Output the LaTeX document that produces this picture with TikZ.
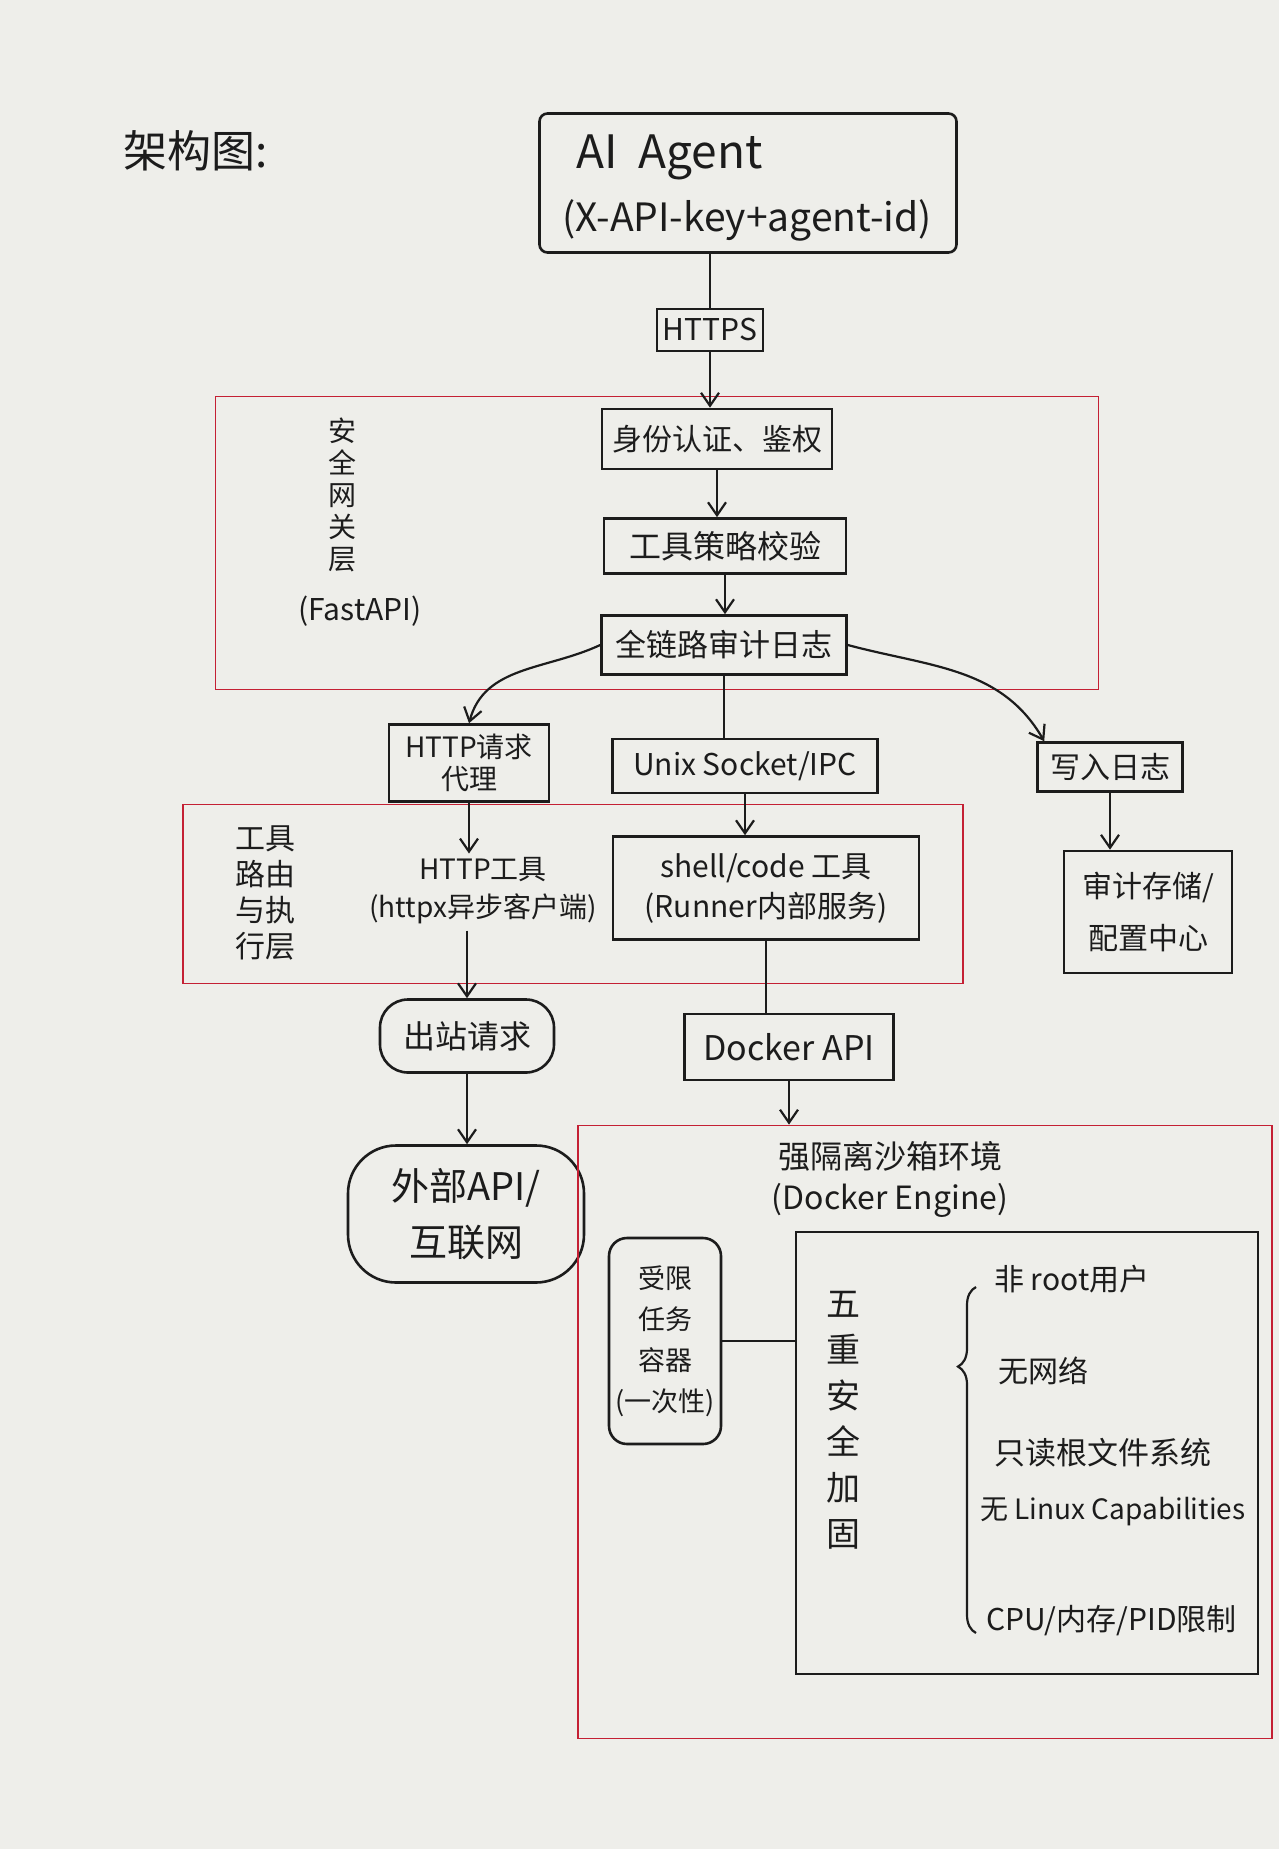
\documentclass[tikz,border=0pt]{standalone}
\usepackage{fontspec}
\setmainfont{Noto Sans CJK SC}
\usepackage{tikz}
\usetikzlibrary{arrows.meta,decorations.pathreplacing}

\definecolor{paper}{RGB}{238,238,234}
\definecolor{ink}{RGB}{28,28,28}
\definecolor{redpen}{RGB}{196,32,52}

\newcommand{\pen}[2]{\fontsize{#1}{#2}\selectfont}

\begin{document}
\begin{tikzpicture}[x=1pt,y=-1pt,
    box/.style={draw=ink, line width=2.6pt, inner sep=0pt, align=center, text=ink},
    layer/.style={draw=redpen, line width=1.8pt, inner sep=0pt},
    txt/.style={text=ink, inner sep=0pt, align=center},
    con/.style={draw=ink, line width=2.2pt},
    arr/.style={con, -{Straight Barb[length=13pt,width=18pt,line width=2.2pt]}}]
		\fill[paper] (0,0) rectangle (1279,1849);
		\useasboundingbox (0,0) rectangle (1279,1849);

		\node[txt, font=\pen{44}{50}] (title) at (196,151) {架构图:};

		% agent and gateway layer
		\node[box, rounded corners=8pt, minimum width=417pt, minimum height=139pt] (agent) at (748,183) {};
		\node[txt, anchor=west, font=\pen{46}{50}] (agentname) at (576,157) {AI\ \ Agent};
		\node[txt, font=\pen{39}{40}] (agentkey) at (747,220) {(X-API-key+agent-id)};
		\node[box, minimum width=106pt, minimum height=42pt, font=\pen{30}{30}] (https) at (710,330) {HTTPS};

		\node[layer, minimum width=883pt, minimum height=293pt] (gateway) at (657,543) {};
		\node[txt, font=\pen{28}{32}] (gwname) at (342,495) {安\\全\\网\\关\\层};
		\node[txt, font=\pen{30}{30}] (gwfast) at (360,611) {(FastAPI)};
		\node[box, minimum width=230pt, minimum height=60pt, font=\pen{30}{30}] (auth) at (717,439) {身份认证、鉴权};
		\node[box, minimum width=242pt, minimum height=55pt, font=\pen{32}{32}] (policy) at (725,546) {工具策略校验};
		\node[box, minimum width=245pt, minimum height=59pt, font=\pen{31}{31}] (audit) at (724,645) {全链路审计日志};

		% tool routing layer
		\node[layer, minimum width=780pt, minimum height=179pt] (toollayer) at (573,894) {};
		\node[txt, font=\pen{30}{36}] (tlname) at (265,893) {工具\\路由\\与执\\行层};
		\node[box, minimum width=160pt, minimum height=77pt, font=\pen{28}{32}] (proxy) at (469,763) {HTTP请求\\代理};
		\node[box, minimum width=265pt, minimum height=54pt, font=\pen{30}{30}] (unix) at (745,766) {Unix Socket/IPC};
		\node[box, minimum width=145pt, minimum height=49pt, font=\pen{30}{30}] (writelog) at (1110,767) {写入日志};
		\node[txt, font=\pen{28}{38}] (httptool) at (483,891) {HTTP工具\\(httpx异步客户端)};
		\node[box, minimum width=306pt, minimum height=103pt, font=\pen{30}{40}] (shell) at (766,888) {shell/code 工具\\(Runner内部服务)};
		\node[box, minimum width=168pt, minimum height=122pt, font=\pen{30}{52}] (store) at (1148,912) {审计存储/\\配置中心};

		\node[box, rounded corners=28pt, minimum width=174pt, minimum height=73pt, font=\pen{32}{32}] (outreq) at (467,1036) {出站请求};
		\node[box, rounded corners=48pt, minimum width=236pt, minimum height=137pt, font=\pen{38}{56}] (external) at (466,1214) {外部API/\\互联网};
		\node[box, minimum width=209pt, minimum height=66pt, font=\pen{34}{34}] (docker) at (789,1047) {Docker API};

		% sandbox
		\node[layer, minimum width=694pt, minimum height=613pt] (sandbox) at (925,1432) {};
		\node[txt, font=\pen{32}{41}] (sbname) at (890,1179) {强隔离沙箱环境\\(Docker Engine)};
		\node[box, rounded corners=18pt, minimum width=112pt, minimum height=206pt, font=\pen{27}{41}] (container) at (665,1341) {受限\\任务\\容器\\(一次性)};
		\node[box, minimum width=462pt, minimum height=442pt] (harden) at (1027,1453) {};
		\node[txt, font=\pen{34}{46}] (hardname) at (843,1420) {五\\重\\安\\全\\加\\固};
		\node[txt, anchor=west, font=\pen{30}{30}] (noroot) at (994,1279) {非 root用户};
		\node[txt, anchor=west, font=\pen{30}{30}] (nonet) at (998,1371) {无网络};
		\node[txt, anchor=west, font=\pen{31}{31}] (rofs) at (994,1453) {只读根文件系统};
		\node[txt, anchor=west, font=\pen{28}{28}] (nocap) at (980,1512) {无 Linux Capabilities};
		\node[txt, anchor=west, font=\pen{30}{30}] (limits) at (986,1621) {CPU/内存/PID限制};

		% connectors
		\draw[con] (https.north |- agent.south) -- (https.north);
		\draw[arr] (https.south) -- (https.south |- auth.north);
		\draw[arr] (auth.south) -- (auth.south |- policy.north);
		\draw[arr] (policy.south) -- (policy.south |- audit.north);
		\draw[arr] (audit.west) to[out=205,in=75] (proxy.north);
		\draw[con] (audit.south) -- (audit.south |- unix.north);
		\draw[arr] (audit.east) to[out=-15,in=120] ([xshift=8pt]writelog.north west);
		\draw[arr, shorten >=4pt] (proxy.south) -- (proxy.south |- httptool.north);
		\draw[arr] (unix.south) -- (unix.south |- shell.north);
		\draw[arr] (writelog.south) -- (writelog.south |- store.north);
		\draw[arr, shorten <=6pt] (outreq.north |- httptool.south) -- (outreq.north);
		\draw[arr] (outreq.south) -- (outreq.south |- external.north);
		\draw[con] (shell.south) -- (shell.south |- docker.north);
		\draw[arr] (docker.south) -- (docker.south |- sandbox.north);
		\draw[con] (container.east) -- (container.east -| harden.west);
		\draw[con, decorate, decoration={brace, amplitude=18pt, aspect=0.77}] (976,1633) -- (976,1287);
	\end{tikzpicture}
\end{document}
